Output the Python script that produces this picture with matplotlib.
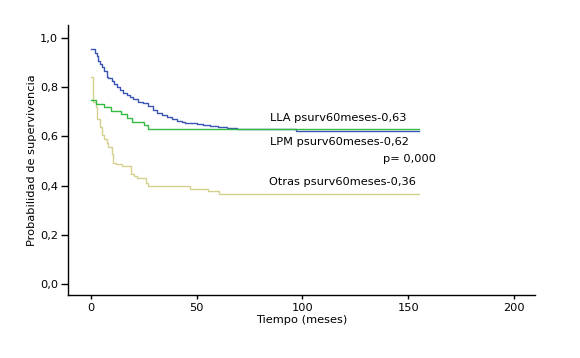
import numpy as np
import matplotlib.pyplot as plt

# Kaplan-Meier curves (time in months, survival)
lla_t = [0, 1.9, 2.7, 3.5, 4.3, 5.1, 6.3, 7.4, 8.2, 9.8, 11, 12.2, 13.7, 15.3, 16.9,
         18.5, 20, 22.4, 24.8, 27.1, 29.5, 31.1, 33.5, 35.8, 38.2, 40.5, 42.9, 44.5,
         46, 50, 53.1, 56.3, 60.2, 64.2, 69, 97, 155]
lla_s = [0.954, 0.94, 0.927, 0.908, 0.894, 0.883, 0.867, 0.843, 0.836, 0.827, 0.812,
         0.802, 0.789, 0.775, 0.768, 0.759, 0.751, 0.741, 0.734, 0.724, 0.707, 0.696,
         0.687, 0.680, 0.670, 0.664, 0.660, 0.656, 0.653, 0.649, 0.646, 0.642, 0.639,
         0.636, 0.630, 0.624, 0.624]

lpm_t = [0, 2.2, 6.3, 9.3, 14.2, 16.9, 19.3, 25.1, 27.1, 155]
lpm_s = [0.747, 0.731, 0.718, 0.703, 0.690, 0.676, 0.659, 0.645, 0.630, 0.630]

otr_t = [0, 1.1, 2.2, 3, 4.3, 5.4, 6.3, 7.4, 8.2, 9.8, 10.6, 11.8, 14.5, 18.9, 20.3,
         21.9, 26, 26.8, 46.9, 55.2, 60.3, 155]
otr_s = [0.840, 0.741, 0.718, 0.670, 0.637, 0.606, 0.588, 0.574, 0.556, 0.528, 0.493,
         0.488, 0.480, 0.447, 0.439, 0.430, 0.412, 0.398, 0.385, 0.378, 0.366, 0.366]

labels = ["LLA psurv60meses-0,63", "LPM psurv60meses-0,62", "Otras psurv60meses-0,36"]
p_text = "p= 0,000"

xticks = [0, 50, 100, 150, 200]
yticks = [0.0, 0.2, 0.4, 0.6, 0.8, 1.0]
ytick_labels = ["0,0", "0,2", "0,4", "0,6", "0,8", "1,0"]

plt.rcParams['font.family'] = ['DejaVu Sans']
fs = 8.2
fig = plt.figure(figsize=(5.8, 3.58), dpi=100)
ax = fig.add_axes([0.1172, 0.176, 0.8052, 0.754])

ax.step(lla_t, lla_s, where='post', color='#3a55b4', lw=1)
ax.step(otr_t, otr_s, where='post', color='#d6d08e', lw=1)
ax.step(lpm_t, lpm_s, where='post', color='#33bb44', lw=1)

ax.set_xlim(-10.9, 210)
ax.set_ylim(-0.045, 1.053)
ax.set_xticks(xticks)
ax.set_yticks(yticks)
ax.set_yticklabels(ytick_labels)
ax.tick_params(axis='both', labelsize=fs, colors='black', width=1)
ax.tick_params(axis='x', length=3, pad=3)
ax.tick_params(axis='y', length=5, pad=2)

for s in ['top', 'right']:
    ax.spines[s].set_visible(False)
for s in ['left', 'bottom']:
    ax.spines[s].set_linewidth(1)

ax.set_xlabel("Tiempo (meses)", fontsize=fs, labelpad=1)
ax.set_ylabel("Probabilidad de supervivencia", fontsize=fs, labelpad=2)

ax.text(84.5, 0.675, labels[0], fontsize=fs, va='center')
ax.text(84.5, 0.577, labels[1], fontsize=fs, va='center')
ax.text(138, 0.507, p_text, fontsize=fs, va='center')
ax.text(84, 0.413, labels[2], fontsize=fs, va='center')

fig.savefig('out.png', dpi=100)
